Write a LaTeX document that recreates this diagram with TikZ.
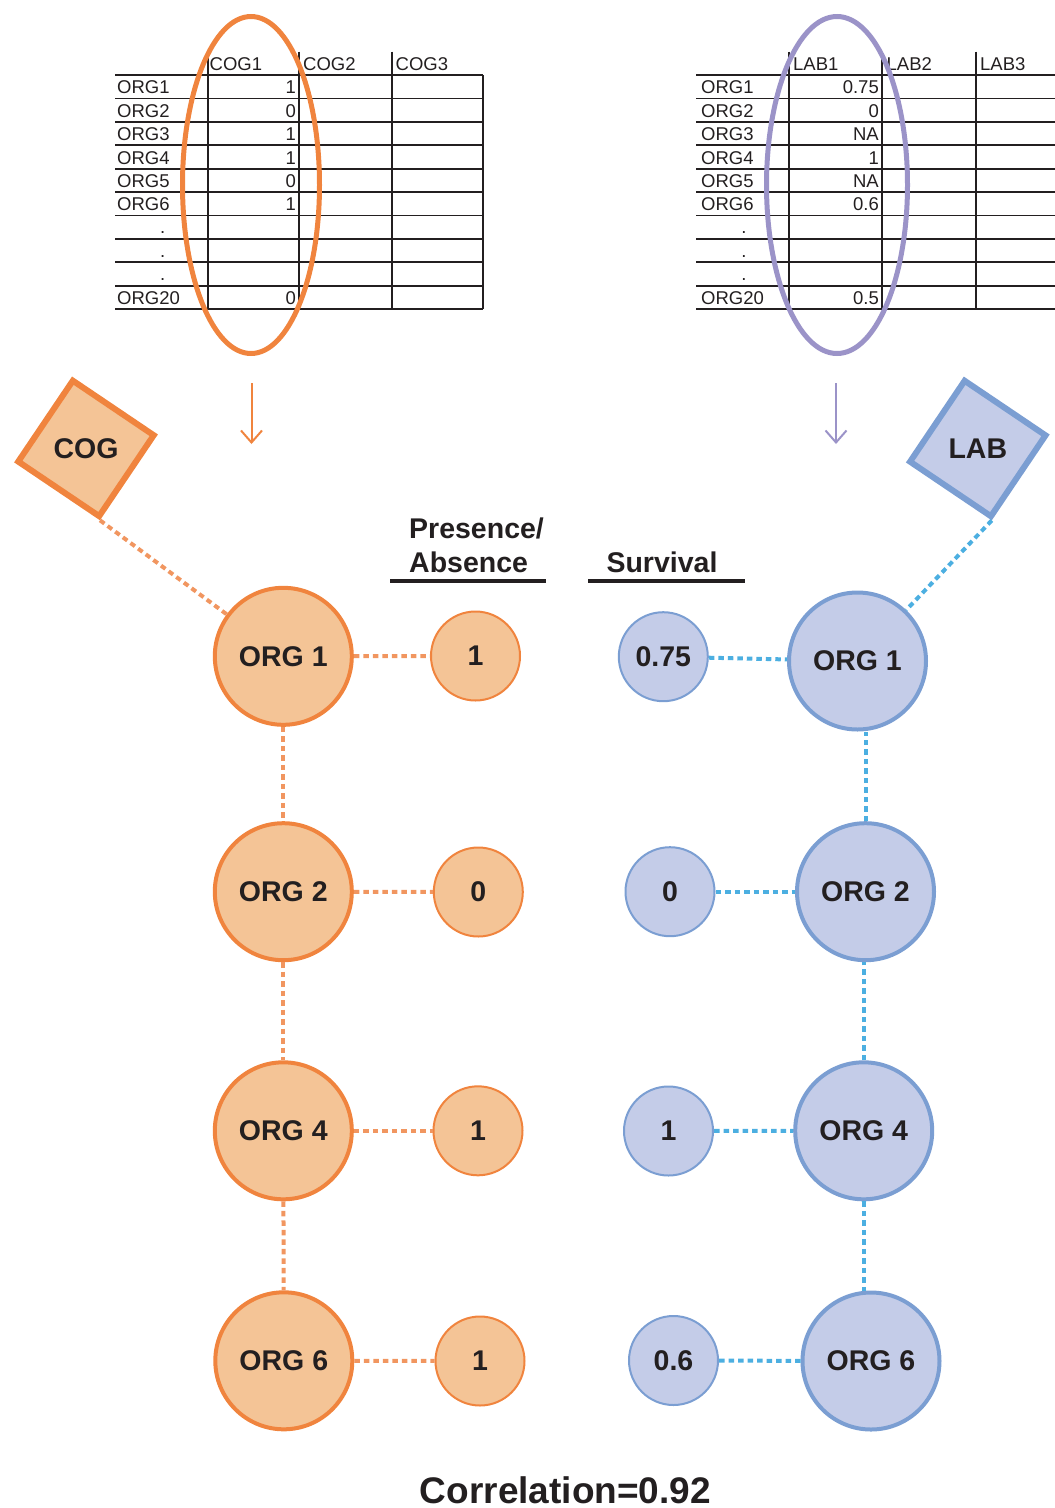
\documentclass[tikz,border=0pt]{standalone}
\usepackage{fontspec}
\setmainfont{Liberation Sans}
\usetikzlibrary{shapes.geometric,arrows.meta}
\definecolor{cogline}{RGB}{240,132,62}
\definecolor{cogfill}{RGB}{244,196,150}
\definecolor{cogdot}{RGB}{241,150,96}
\definecolor{labring}{RGB}{155,147,200}
\definecolor{labline}{RGB}{123,158,210}
\definecolor{labfill}{RGB}{196,204,232}
\definecolor{labdot}{RGB}{76,175,225}
\definecolor{ink}{RGB}{35,31,32}

\begin{document}
\begin{tikzpicture}[
    x=1pt, y=-1pt,
    tblrule/.style={line width=1.8pt, ink},
    tbltext/.style={inner sep=0pt, text=ink, font=\fontsize{18.5}{20}\selectfont},
    pickring/.style={line width=5pt},
    pickarrow/.style={line width=2pt, -{Straight Barb[length=12pt,width=21pt]}},
    groupbox/.style={regular polygon, regular polygon sides=4, shape border rotate=-34,
      minimum size=138pt, inner sep=0pt, line width=6pt, text=ink,
      font=\fontsize{28.5}{30}\selectfont\bfseries},
    orgball/.style={circle, minimum size=137pt, inner sep=0pt, line width=4pt, text=ink,
      font=\fontsize{28.5}{30}\selectfont\bfseries},
    valball/.style={circle, minimum size=89pt, inner sep=0pt, line width=2pt, text=ink,
      font=\fontsize{28.5}{30}\selectfont\bfseries},
    cogdots/.style={cogdot, line width=4pt, dash pattern=on 5.5pt off 4pt},
    labdots/.style={labdot, line width=4pt, dash pattern=on 5.5pt off 4pt},
    headtext/.style={inner sep=0pt, text=ink, font=\fontsize{28.5}{30}\selectfont\bfseries},
    headrule/.style={line width=4pt, ink}
    ]
    \useasboundingbox (0,0) rectangle (1055,1508);

    % COG table
    \foreach \k in {0,...,10}
      \draw[tblrule] (115,{75+23.4*\k}) -- (483,{75+23.4*\k});
    \foreach \x in {207.7,299.3,391.7}
      \draw[tblrule] (\x,51.7) -- (\x,309);
    \draw[tblrule] (482.7,75) -- (482.7,309);
    \node[tbltext, anchor=base west] (ch1) at (209.5,70) {COG1};
    \node[tbltext, anchor=base west] (ch2) at (303,70) {COG2};
    \node[tbltext, anchor=base west] (ch3) at (395.5,70) {COG3};
    \foreach \v [count=\i] in {1,0,1,1,0,1} {
      \node[tbltext, anchor=base west] (cr\i) at (117,{75+23.4*\i-4.5}) {ORG\i};
      \node[tbltext, anchor=base east] (cv\i) at (296,{75+23.4*\i-4.5}) {\v};
    }
    \foreach \i in {7,8,9}
      \node[tbltext, anchor=base] (cd\i) at (162.7,{75+23.4*\i-5}) {.};
    \node[tbltext, anchor=base west] (cr20) at (117,304.5) {ORG20};
    \node[tbltext, anchor=base east] (cv20) at (296,304.5) {0};
    \draw[cogline, pickring] (251,185) ellipse [x radius=68.5, y radius=168.5];

    % LAB table
    \foreach \k in {0,...,10}
      \draw[tblrule] (696,{75+23.4*\k}) -- (1055,{75+23.4*\k});
    \foreach \x in {789.3,882.3,976}
      \draw[tblrule] (\x,51.7) -- (\x,309);
    \node[tbltext, anchor=base west] (lh1) at (793,70) {LAB1};
    \node[tbltext, anchor=base west] (lh2) at (886.5,70) {LAB2};
    \node[tbltext, anchor=base west] (lh3) at (980,70) {LAB3};
    \foreach \v [count=\i] in {0.75,0,NA,1,NA,0.6} {
      \node[tbltext, anchor=base west] (lr\i) at (701,{75+23.4*\i-4.5}) {ORG\i};
      \node[tbltext, anchor=base east] (lv\i) at (879,{75+23.4*\i-4.5}) {\v};
    }
    \foreach \i in {7,8,9}
      \node[tbltext, anchor=base] (ld\i) at (744,{75+23.4*\i-5}) {.};
    \node[tbltext, anchor=base west] (lr20) at (701,304.5) {ORG20};
    \node[tbltext, anchor=base east] (lv20) at (879,304.5) {0.5};
    \draw[labring, pickring] (837,185) ellipse [x radius=70.5, y radius=168.5];

    % picks
    \coordinate (ca) at (251.5,383);
    \coordinate (cb) at (251.5,444);
    \coordinate (la) at (836,383);
    \coordinate (lb) at (836,444);
    \draw[cogline, pickarrow] (ca) -- (cb);
    \draw[labring, pickarrow] (la) -- (lb);

    % group tags
    \node[groupbox, draw=cogline, fill=cogfill] (cog) at (86,448.4) {COG};
    \node[groupbox, draw=labline, fill=labfill] (lab) at (977.8,448.5) {LAB};

    % headers
    \node[headtext, anchor=base west] (pa1) at (409,538) {Presence/};
    \node[headtext, anchor=base west] (pa2) at (409,572) {Absence};
    \node[headtext, anchor=base] (sv) at (662,572) {Survival};
    \draw[headrule] (390,581.3) -- (546,581.3);
    \draw[headrule] (588,581.3) -- (744.5,581.3);

    % COG network
    \node[orgball, draw=cogline, fill=cogfill] (lo1) at (283.3,656.3) {ORG 1};
    \node[orgball, draw=cogline, fill=cogfill] (lo2) at (283.3,891.7) {ORG 2};
    \node[orgball, draw=cogline, fill=cogfill] (lo4) at (283.3,1130.8) {ORG 4};
    \node[orgball, draw=cogline, fill=cogfill] (lo6) at (283.8,1360.8) {ORG 6};
    \node[valball, draw=cogline, fill=cogfill] (pv1) at (475.5,656) {1};
    \node[valball, draw=cogline, fill=cogfill] (pv2) at (478.3,892) {0};
    \node[valball, draw=cogline, fill=cogfill] (pv4) at (478,1130.8) {1};
    \node[valball, draw=cogline, fill=cogfill] (pv6) at (480,1361) {1};
    \draw[cogdots] (cog.corner 4) -- (lo1);
    \draw[cogdots] (lo1) -- (lo2);
    \draw[cogdots] (lo2) -- (lo4);
    \draw[cogdots] (lo4) -- (lo6);
    \draw[cogdots] (lo1) -- (pv1);
    \draw[cogdots] (lo2) -- (pv2);
    \draw[cogdots] (lo4) -- (pv4);
    \draw[cogdots] (lo6) -- (pv6);

    % LAB network
    \node[orgball, draw=labline, fill=labfill] (ro1) at (857.5,661) {ORG 1};
    \node[orgball, draw=labline, fill=labfill] (ro2) at (865.5,891.7) {ORG 2};
    \node[orgball, draw=labline, fill=labfill] (ro4) at (863.7,1130.8) {ORG 4};
    \node[orgball, draw=labline, fill=labfill] (ro6) at (871,1361) {ORG 6};
    \node[valball, draw=labline, fill=labfill] (sv1) at (663.3,656.7) {0.75};
    \node[valball, draw=labline, fill=labfill] (sv2) at (670,891.7) {0};
    \node[valball, draw=labline, fill=labfill] (sv4) at (668.5,1131) {1};
    \node[valball, draw=labline, fill=labfill] (sv6) at (673.5,1360.5) {0.6};
    \draw[labdots] (lab.corner 4) -- (ro1);
    \draw[labdots] (ro2.north) -- (ro2.north |- ro1.south);
    \draw[labdots] (ro4.north) -- (ro4.north |- ro2.south);
    \draw[labdots] (ro4.south) -- (ro4.south |- ro6.north);
    \draw[labdots] (sv1) -- (ro1);
    \draw[labdots] (sv2) -- (ro2);
    \draw[labdots] (sv4) -- (ro4);
    \draw[labdots] (sv6) -- (ro6);

    \node[inner sep=0pt, text=ink, anchor=base, font=\fontsize{37}{40}\selectfont\bfseries]
      (corr) at (565.4,1503) {Correlation=0.92};
  \end{tikzpicture}
\end{document}
